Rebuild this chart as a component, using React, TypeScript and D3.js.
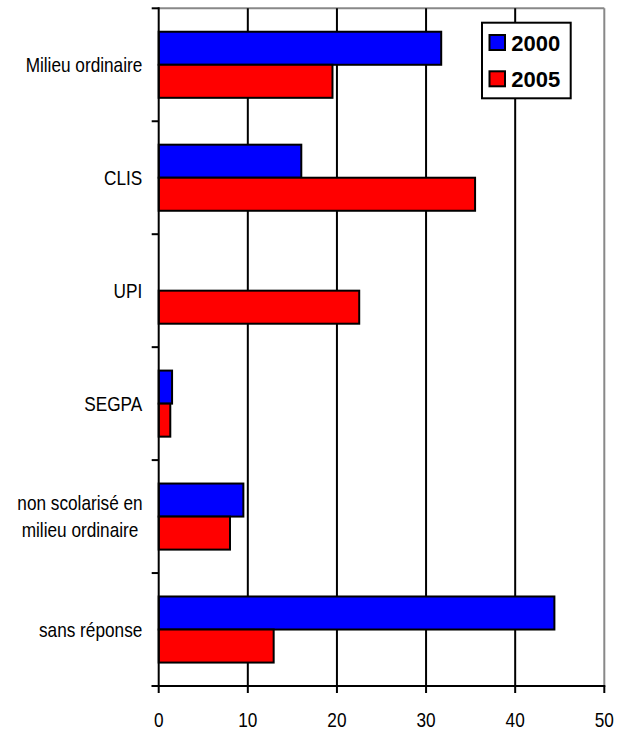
import React from "react";
import * as d3 from "d3";

// Categories (top to bottom), series values in percent
const categories = [
  "Milieu ordinaire",
  "CLIS",
  "UPI",
  "SEGPA",
  "non scolarisé en\nmilieu ordinaire",
  "sans réponse",
];
const values2000: (number | null)[] = [31.7, 16.0, null, 1.5, 9.5, 44.4];
const values2005: (number | null)[] = [19.5, 35.5, 22.5, 1.3, 8.0, 12.9];
const seriesNames = ["2000", "2005"];
const seriesColors = ["#0000ff", "#ff0000"];
const xTicks = [0, 10, 20, 30, 40, 50];

const W = 627;
const H = 731;
const left = 158.7;
const right = 604.3;
const top = 8.3;
const bottom = 686;

const labelFont = "'Liberation Sans', Arial, sans-serif";
const narrow = 0.82; // horizontal condensing for the axis text

// Horizontally condensed text anchored at (x, y)
function NarrowText({
  x,
  y,
  anchor,
  children,
}: {
  x: number;
  y: number;
  anchor: "start" | "middle" | "end";
  children: React.ReactNode;
}) {
  return (
    <g transform={`translate(${x},${y}) scale(${narrow},1)`}>
      <text x={0} y={0} textAnchor={anchor} fontFamily={labelFont} fontSize={21} fill="#000">
        {children}
      </text>
    </g>
  );
}

export default function App() {
  const x = d3.scaleLinear().domain([0, 50]).range([left, right]);
  const y = d3
    .scaleBand<string>()
    .domain(categories)
    .range([top, bottom])
    .paddingInner(0.415)
    .paddingOuter(0.2075);
  const step = y.step();
  const barH = y.bandwidth() / 2;
  const series = [values2000, values2005];
  const boundaries = d3.range(categories.length + 1).map((i) => top + i * step);

  return (
    <svg
      width={W}
      height={H}
      style={{ position: "absolute", left: 0, top: 0, background: "#fff" }}
    >
      <rect x={0} y={0} width={W} height={H} fill="#fff" />
      {/* plot frame: top and right edges */}
      <line x1={left} x2={right} y1={top} y2={top} stroke="#888" strokeWidth={2} />
      <line x1={right} x2={right} y1={top} y2={bottom} stroke="#888" strokeWidth={2} />
      {/* vertical gridlines */}
      {xTicks.slice(1, -1).map((t) => (
        <line key={t} x1={x(t)} x2={x(t)} y1={top} y2={bottom} stroke="#000" strokeWidth={2} />
      ))}
      {/* bars */}
      {series.map((vals, si) =>
        categories.map((c, ci) => {
          const v = vals[ci];
          if (v == null) return null;
          return (
            <rect
              key={`${si}-${ci}`}
              x={x(0)}
              y={(y(c) as number) + si * barH}
              width={x(v) - x(0)}
              height={barH}
              fill={seriesColors[si]}
              stroke="#000"
              strokeWidth={2}
            />
          );
        })
      )}
      {/* category axis */}
      <line x1={left} x2={left} y1={top - 1} y2={bottom} stroke="#000" strokeWidth={2} />
      {boundaries.map((b, i) => (
        <line key={i} x1={left - 7} x2={left} y1={b} y2={b} stroke="#000" strokeWidth={2} />
      ))}
      {/* value axis */}
      <line x1={left - 7} x2={right + 1} y1={bottom} y2={bottom} stroke="#000" strokeWidth={2} />
      {xTicks.map((t) => (
        <g key={t}>
          <line x1={x(t)} x2={x(t)} y1={bottom} y2={bottom + 7} stroke="#000" strokeWidth={2} />
          <NarrowText x={x(t)} y={726.5} anchor="middle">
            {t}
          </NarrowText>
        </g>
      ))}
      {/* category labels */}
      {categories.map((c) => {
        const lines = c.split("\n");
        const cy = (y(c) as number) + y.bandwidth() / 2;
        const lh = 27;
        const base = cy + 7 - ((lines.length - 1) * lh) / 2;
        if (lines.length === 1) {
          return (
            <NarrowText key={c} x={142.3} y={base} anchor="end">
              {c}
            </NarrowText>
          );
        }
        return (
          <g key={c}>
            {lines.map((l, li) => (
              <NarrowText key={li} x={80} y={base + li * lh} anchor="middle">
                {l}
              </NarrowText>
            ))}
          </g>
        );
      })}
      {/* legend */}
      <rect x={482} y={22.7} width={88.7} height={75.6} fill="#fff" stroke="#000" strokeWidth={2} />
      {seriesNames.map((s, i) => (
        <g key={s}>
          <rect
            x={489.5}
            y={35 + i * 36.3}
            width={15.5}
            height={15}
            fill={seriesColors[i]}
            stroke="#000"
            strokeWidth={2}
          />
          <text
            x={511.3}
            y={50.5 + i * 36.5}
            fontFamily={labelFont}
            fontWeight="bold"
            fontSize={22}
            fill="#000"
          >
            {s}
          </text>
        </g>
      ))}
    </svg>
  );
}
